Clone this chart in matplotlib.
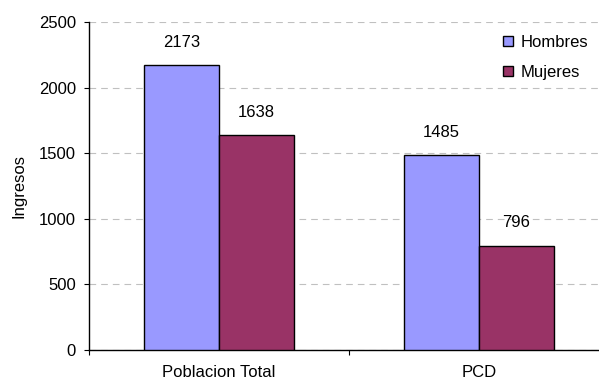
import matplotlib
matplotlib.use("Agg")
import matplotlib.pyplot as plt
import numpy as np

plt.rcParams['font.family'] = ['Liberation Sans', 'DejaVu Sans']

categories = ["Poblacion Total", "PCD"]
series_names = ["Hombres", "Mujeres"]
hombres = [2173, 1485]
mujeres = [1638, 796]
colors = ["#9999FF", "#993366"]

W, H = 599, 381
FS = 12
fig = plt.figure(figsize=(W/100, H/100), dpi=100)
left, right, top, bottom = 89, 609, 22, 350
ax = fig.add_axes([left/W, 1-bottom/H, (right-left)/W, (bottom-top)/H])

x = np.arange(len(categories))
bw = 75/260
for i, (vals, name, c) in enumerate(zip([hombres, mujeres], series_names, colors)):
    pos = x + (i - 0.5) * bw
    bars = ax.bar(pos, vals, width=bw, color=c, edgecolor="black", linewidth=1.0,
                  label=name, zorder=3)
    for b, v in zip(bars, vals):
        ax.annotate(f"{v}", (b.get_x() + b.get_width()/2, v), xytext=(0, 11),
                    textcoords="offset points", ha="center", va="bottom", fontsize=FS)

ax.set_xlim(-0.5, 1.5)
ax.set_ylim(0, 2500)
ax.set_yticks(np.arange(0, 2501, 500))
ax.set_xticks([-0.5, 0.5, 1.5])
ax.set_xticklabels([])
ax.set_xticks(x, minor=True)
ax.set_xticklabels(categories, minor=True)
ax.tick_params(axis="x", which="minor", length=0, pad=11, labelsize=FS)
ax.tick_params(axis="x", which="major", length=3.5, direction="out")
ax.tick_params(axis="y", length=3.5, direction="out", labelsize=FS, pad=6)
ax.yaxis.grid(True, linestyle=(0, (6, 4.5)), color="#C0C0C0", linewidth=0.8, zorder=0)
ax.set_axisbelow(True)
for s in ["top", "right"]:
    ax.spines[s].set_visible(False)
for s in ["left", "bottom"]:
    ax.spines[s].set_color("black")
    ax.spines[s].set_linewidth(1.0)
ax.set_ylabel("Ingresos", fontsize=FS, labelpad=9)

leg = fig.legend(loc="upper left", bbox_to_anchor=(503/W, 1-35/H), frameon=False,
                 fontsize=FS, handlelength=0.6, handleheight=0.6, handletextpad=0.45,
                 labelspacing=0.88, borderpad=0, borderaxespad=0)
for h in leg.legend_handles:
    h.set_linewidth(1.0)

fig.savefig("out.png", dpi=100)
